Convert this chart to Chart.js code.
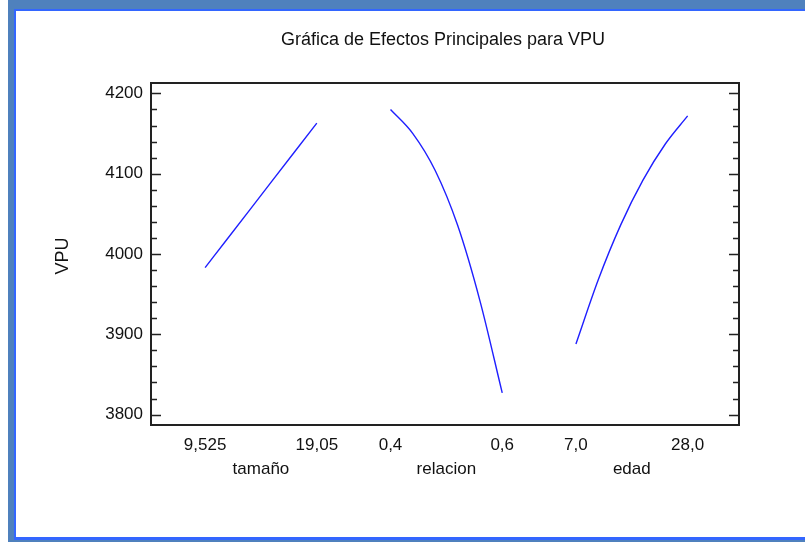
<!DOCTYPE html>
<html>
<head>
<meta charset="utf-8">
<script src="https://cdn.jsdelivr.net/npm/chart.js@4"></script>
<style>
  html, body { margin: 0; padding: 0; background: #fff; }
  #wrap { position: relative; width: 805px; height: 542px; overflow: hidden; }
  .frame { position: absolute; }
  #outer { left: 8px; top: 0; width: 797px; height: 542px; background: #4f81bd; }
  #inner { left: 14px; top: 9px; width: 791px; height: 531px; background: #3366ff; }
  #paper { left: 16px; top: 11px; width: 789px; height: 526px; background: #fff; }
  #chart { position: absolute; left: 0; top: 0; }
</style>
</head>
<body>
<div id="wrap">
  <div class="frame" id="outer"></div>
  <div class="frame" id="inner"></div>
  <div class="frame" id="paper"></div>
  <canvas id="chart" width="805" height="542"></canvas>
</div>
<script>
// factor names and the levels/effects for each factor
const factorNames = ['tamaño', 'relacion', 'edad'];

const tamanoLevels = [9.525, 11.43, 13.335, 15.24, 17.145, 19.05];
const tamanoVPU = [3983, 4019, 4055, 4091, 4127, 4163];

const relacionLevels = [0.40, 0.44, 0.48, 0.52, 0.56, 0.60];
const relacionVPU = [4180, 4150, 4104, 4036, 3942, 3827];

const edadLevels = [7.0, 11.2, 15.4, 19.6, 23.8, 28.0];
const edadVPU = [3888, 3968, 4036, 4092, 4137, 4172];

// low / high level labels under each factor
const lowLabels = ['9,525', '0,4', '7,0'];
const highLabels = ['19,05', '0,6', '28,0'];

const yMajorTicks = [3800, 3900, 4000, 4100, 4200];
const yMinorStep = 20;

// each factor gets its own slot along a shared 0..3 axis
const SLOT = 0.946, OFFSET = 0.276, SPAN = 0.57;
const FONT = "'Liberation Sans', Arial, sans-serif";

function slotPos(i, v, levels) {
    const lo = levels[0], hi = levels[levels.length - 1];
    return OFFSET + SLOT * i + SPAN * (v - lo) / (hi - lo);
}

function toPoints(i, levels, values) {
    return levels.map((v, k) => ({ x: slotPos(i, v, levels), y: values[k] }));
}

const allLevels = [tamanoLevels, relacionLevels, edadLevels];
const allValues = [tamanoVPU, relacionVPU, edadVPU];

const datasets = allLevels.map((lv, i) => ({
    label: factorNames[i],
    data: toPoints(i, lv, allValues[i]),
    borderColor: '#1f1fff',
    borderWidth: 1.4,
    cubicInterpolationMode: 'monotone',
    pointRadius: 0,
    fill: false
}));

// x tick positions: low and high end of every factor
const xTickValues = [];
const xTickText = {};
allLevels.forEach((lv, i) => {
    const a = slotPos(i, lv[0], lv), b = slotPos(i, lv[lv.length - 1], lv);
    xTickValues.push(a, b);
    xTickText[a.toFixed(4)] = lowLabels[i];
    xTickText[b.toFixed(4)] = highLabels[i];
});

const framePlugin = {
    id: 'framePlugin',
    afterDraw(chart) {
        const ctx = chart.ctx;
        const area = chart.chartArea;
        const y = chart.scales.y;
        const x = chart.scales.x;
        ctx.save();

        // plot box
        ctx.strokeStyle = '#222';
        ctx.lineWidth = 2;
        ctx.strokeRect(area.left, area.top, area.right - area.left, area.bottom - area.top);

        // inside tick marks on left and right
        ctx.lineWidth = 1.5;
        for (let v = yMajorTicks[0]; v <= yMajorTicks[yMajorTicks.length - 1]; v += yMinorStep) {
            const py = Math.round(y.getPixelForValue(v)) + 0.5;
            const len = yMajorTicks.includes(v) ? 10 : 6;
            ctx.beginPath();
            ctx.moveTo(area.left, py);
            ctx.lineTo(area.left + len, py);
            ctx.moveTo(area.right, py);
            ctx.lineTo(area.right - len, py);
            ctx.stroke();
        }

        // factor names under the tick labels
        ctx.fillStyle = '#111';
        ctx.font = '17px ' + FONT;
        ctx.textAlign = 'center';
        ctx.textBaseline = 'middle';
        allLevels.forEach((lv, i) => {
            const mid = (slotPos(i, lv[0], lv) + slotPos(i, lv[lv.length - 1], lv)) / 2;
            ctx.fillText(factorNames[i], x.getPixelForValue(mid), 469);
        });

        // title
        ctx.font = '18px ' + FONT;
        ctx.fillText('Gráfica de Efectos Principales para VPU', 443, 40);

        // y axis title
        ctx.font = '18px ' + FONT;
        ctx.translate(63, 256);
        ctx.rotate(-Math.PI / 2);
        ctx.fillText('VPU', 0, 0);
        ctx.restore();
    }
};

new Chart(document.getElementById('chart'), {
    type: 'line',
    data: { datasets },
    options: {
        responsive: false,
        animation: false,
        devicePixelRatio: 1,
        layout: { padding: { top: 83, right: 66, left: 0, bottom: 0 } },
        plugins: {
            legend: { display: false },
            title: { display: false },
            tooltip: { enabled: false }
        },
        scales: {
            x: {
                type: 'linear',
                min: 0,
                max: 3,
                afterFit(scale) { scale.height = 117; },
                afterBuildTicks(scale) {
                    scale.ticks = xTickValues.map(v => ({ value: v }));
                },
                grid: { display: false, drawTicks: false },
                border: { display: false },
                ticks: {
                    color: '#111',
                    font: { size: 17, family: FONT },
                    padding: 10,
                    maxRotation: 0,
                    autoSkip: false,
                    callback: v => xTickText[Number(v).toFixed(4)] || ''
                }
            },
            y: {
                min: 3787,
                max: 4213,
                afterFit(scale) { scale.width = 151; },
                afterBuildTicks(scale) {
                    scale.ticks = yMajorTicks.map(v => ({ value: v }));
                },
                grid: { display: false, drawTicks: false },
                border: { display: false },
                ticks: {
                    color: '#111',
                    font: { size: 17, family: FONT },
                    padding: 8,
                    callback: v => String(v)
                }
            }
        }
    },
    plugins: [framePlugin]
});
</script>
</body>
</html>
